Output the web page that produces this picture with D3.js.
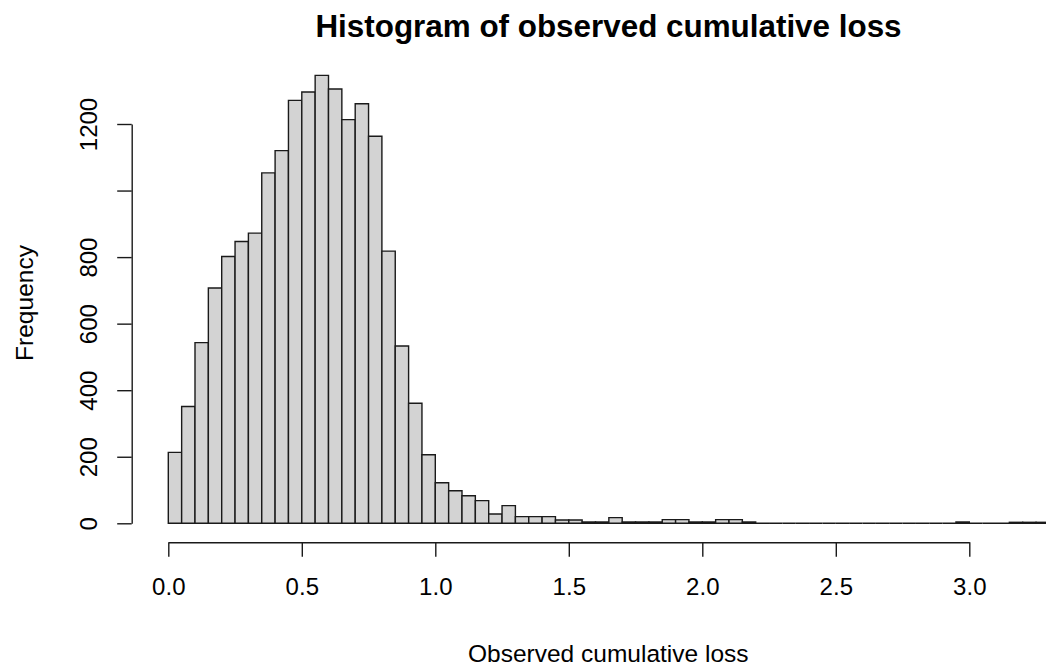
<!DOCTYPE html>
<html>
<head>
<meta charset="utf-8">
<script src="https://cdn.jsdelivr.net/npm/d3@7"></script>
<style>
  html, body { margin: 0; padding: 0; background: #fff; }
  svg { display: block; }
  text { font-family: "Liberation Sans", Arial, Helvetica, sans-serif; fill: #000; }
</style>
</head>
<body>
<svg id="chart" width="1046" height="666"></svg>
<script>
// Histogram data: bin width 0.05, starting at 0
const binStarts = d3.range(0, 66).map(i => +(i * 0.05).toFixed(2));
const counts = [
  213, 351, 543, 707, 802, 847, 872, 1053, 1120, 1271,
  1296, 1346, 1305, 1213, 1261, 1163, 818, 533, 361, 206,
  122, 98, 83, 68, 28, 53, 20, 20, 20, 10,
  10, 4, 4, 17, 4, 4, 4, 11, 11, 4,
  4, 11, 11, 4, 0, 0, 0, 0, 0, 0,
  0, 0, 0, 0, 0, 0, 0, 0, 0, 4,
  0, 0, 0, 3, 3, 3
];
const binWidth = 0.05;
const xTicks = [0, 0.5, 1.0, 1.5, 2.0, 2.5, 3.0];
const yTicks = [0, 200, 400, 600, 800, 1000, 1200];
// R drops the 1000 label because it would overlap its neighbours
const yTickLabels = ["0", "200", "400", "600", "800", "", "1200"];
const titleText = "Histogram of observed cumulative loss";
const xLabelText = "Observed cumulative loss";
const yLabelText = "Frequency";

const svg = d3.select("#chart");

const x = d3.scaleLinear().domain([0, 3]).range([168.3, 969.3]);
const y = d3.scaleLinear().domain([0, 1200]).range([523.3, 124]);

const bins = binStarts.map((s, i) => ({ x0: s, x1: s + binWidth, n: counts[i] }));

// Bars (paths so zero-count bins still draw their outline line)
svg.append("g")
  .selectAll("path")
  .data(bins)
  .join("path")
  .attr("d", d => {
    const xa = x(d.x0), xb = x(d.x1), y0 = y(0), y1 = y(d.n);
    return `M${xa},${y0}V${y1}H${xb}V${y0}Z`;
  })
  .attr("fill", "#d3d3d3")
  .attr("stroke", "#1a1a1a")
  .attr("stroke-width", 1.4);

// X axis
const xAxis = svg.append("g")
  .attr("transform", "translate(0,542.3)")
  .call(d3.axisBottom(x).tickValues(xTicks).tickFormat(d3.format(".1f")).tickSize(14.5).tickSizeOuter(0).tickPadding(21));
xAxis.selectAll("path, line").attr("stroke", "#1a1a1a").attr("stroke-width", 1.4);
xAxis.selectAll("text")
  .style("font-size", "24px")
  .attr("fill", "#000")
  .attr("dy", "0.71em");

// Y axis
const yAxis = svg.append("g")
  .attr("transform", "translate(131.7,0)")
  .call(d3.axisLeft(y).tickValues(yTicks).tickFormat((d, i) => yTickLabels[i]).tickSize(14.5).tickSizeOuter(0));
yAxis.selectAll("path, line").attr("stroke", "#1a1a1a").attr("stroke-width", 1.4);
yAxis.selectAll("text")
  .style("font-size", "24px")
  .attr("fill", "#000")
  .attr("text-anchor", "middle")
  .attr("transform", "rotate(-90)")
  .attr("x", 0)
  .attr("y", -34.7)
  .attr("dy", 0);

// Title
svg.append("text")
  .attr("x", 608.5)
  .attr("y", 37.3)
  .attr("text-anchor", "middle")
  .style("font-size", "31.4px")
  .style("font-weight", "bold")
  .text(titleText);

// X label
svg.append("text")
  .attr("x", 608.3)
  .attr("y", 662)
  .attr("text-anchor", "middle")
  .style("font-size", "24.5px")
  .text(xLabelText);

// Y label
svg.append("text")
  .attr("transform", "translate(33.3,303) rotate(-90)")
  .attr("text-anchor", "middle")
  .style("font-size", "24.5px")
  .text(yLabelText);
</script>
</body>
</html>
